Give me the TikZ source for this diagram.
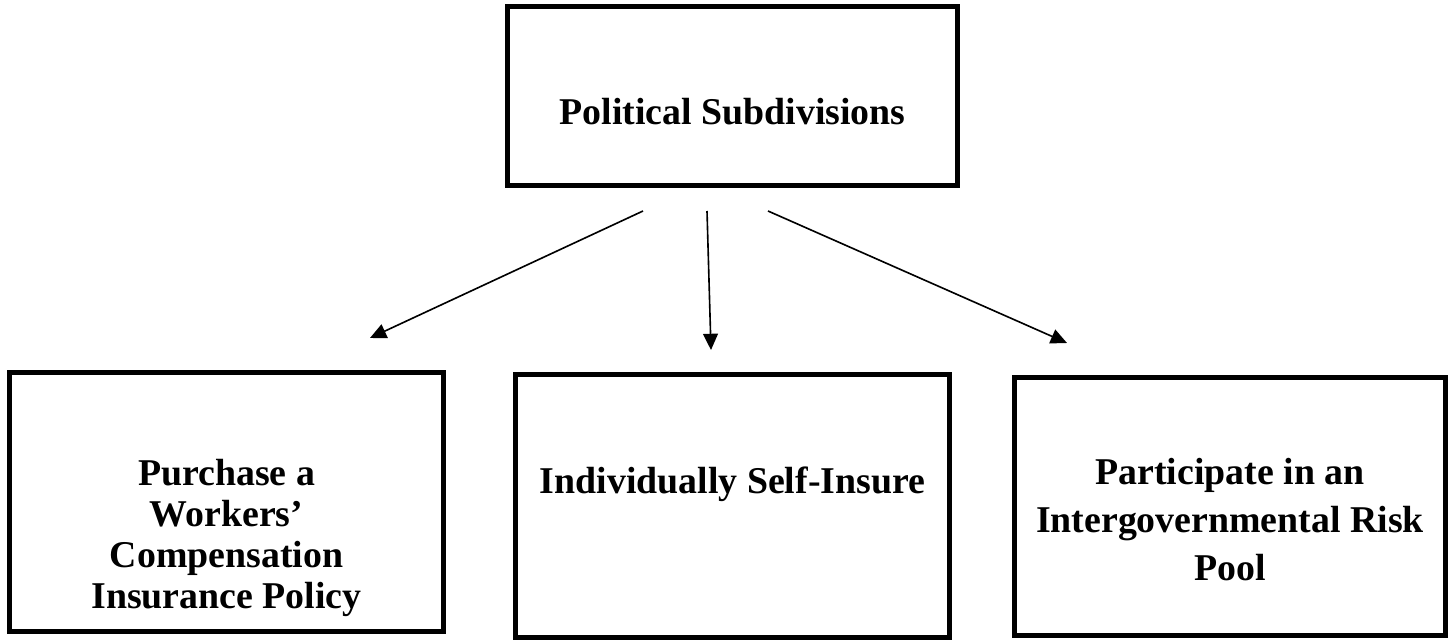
\documentclass[tikz,border=0pt]{standalone}
\usepackage{fontspec}
\setmainfont{Liberation Serif}
\usepackage{tikz}
\usetikzlibrary{arrows.meta}
\tikzset{
  box node/.style={rectangle,draw,line width=2pt,inner sep=0pt},
  box text/.style={font=\bfseries\fontsize{14}{15.2}\selectfont,align=center}
}
\begin{document}
\begin{tikzpicture}[->,>={Triangle[length=6pt,width=5.5pt]},x=0.37pt,y=-0.37pt]
        \useasboundingbox (0,0) rectangle (1456,641);
        \node [box node,minimum width=166.4pt,minimum height=66.1pt,
               label={[box text,yshift=-5.7pt]center:Political Subdivisions}] (pol) at (732.5,96) {};
        \node [box node,minimum width=160.4pt,minimum height=95.7pt,
               label={[box text,yshift=-13.2pt]center:Purchase a\\Workers’\\Compensation\\Insurance Policy}] (buy) at (226.5,502) {};
        \node [box node,minimum width=160.4pt,minimum height=97.2pt,
               label={[box text,yshift=7.9pt]center:Individually Self-Insure}] (self) at (732.5,506) {};
        \node [box node,minimum width=159.3pt,minimum height=95.3pt,
               label={[box text,font=\bfseries\fontsize{14}{17.8}\selectfont,yshift=-4.8pt]center:Participate in an\\Intergovernmental Risk\\Pool}] (pool) at (1230,506.5) {};
        % arrow ends, free in the picture
        \coordinate (pol-l) at (643,211);
        \coordinate (pol-m) at (707,211);
        \coordinate (pol-r) at (768,211);
        \coordinate (buy-in) at (370,338);
        \coordinate (self-in) at (711,350);
        \coordinate (pool-in) at (1067,343);
        \draw [line width=0.6pt] (pol-l) -- (buy-in);
        \draw [line width=0.6pt] (pol-m) -- (self-in);
        \draw [line width=0.6pt] (pol-r) -- (pool-in);
      \end{tikzpicture}
\end{document}
